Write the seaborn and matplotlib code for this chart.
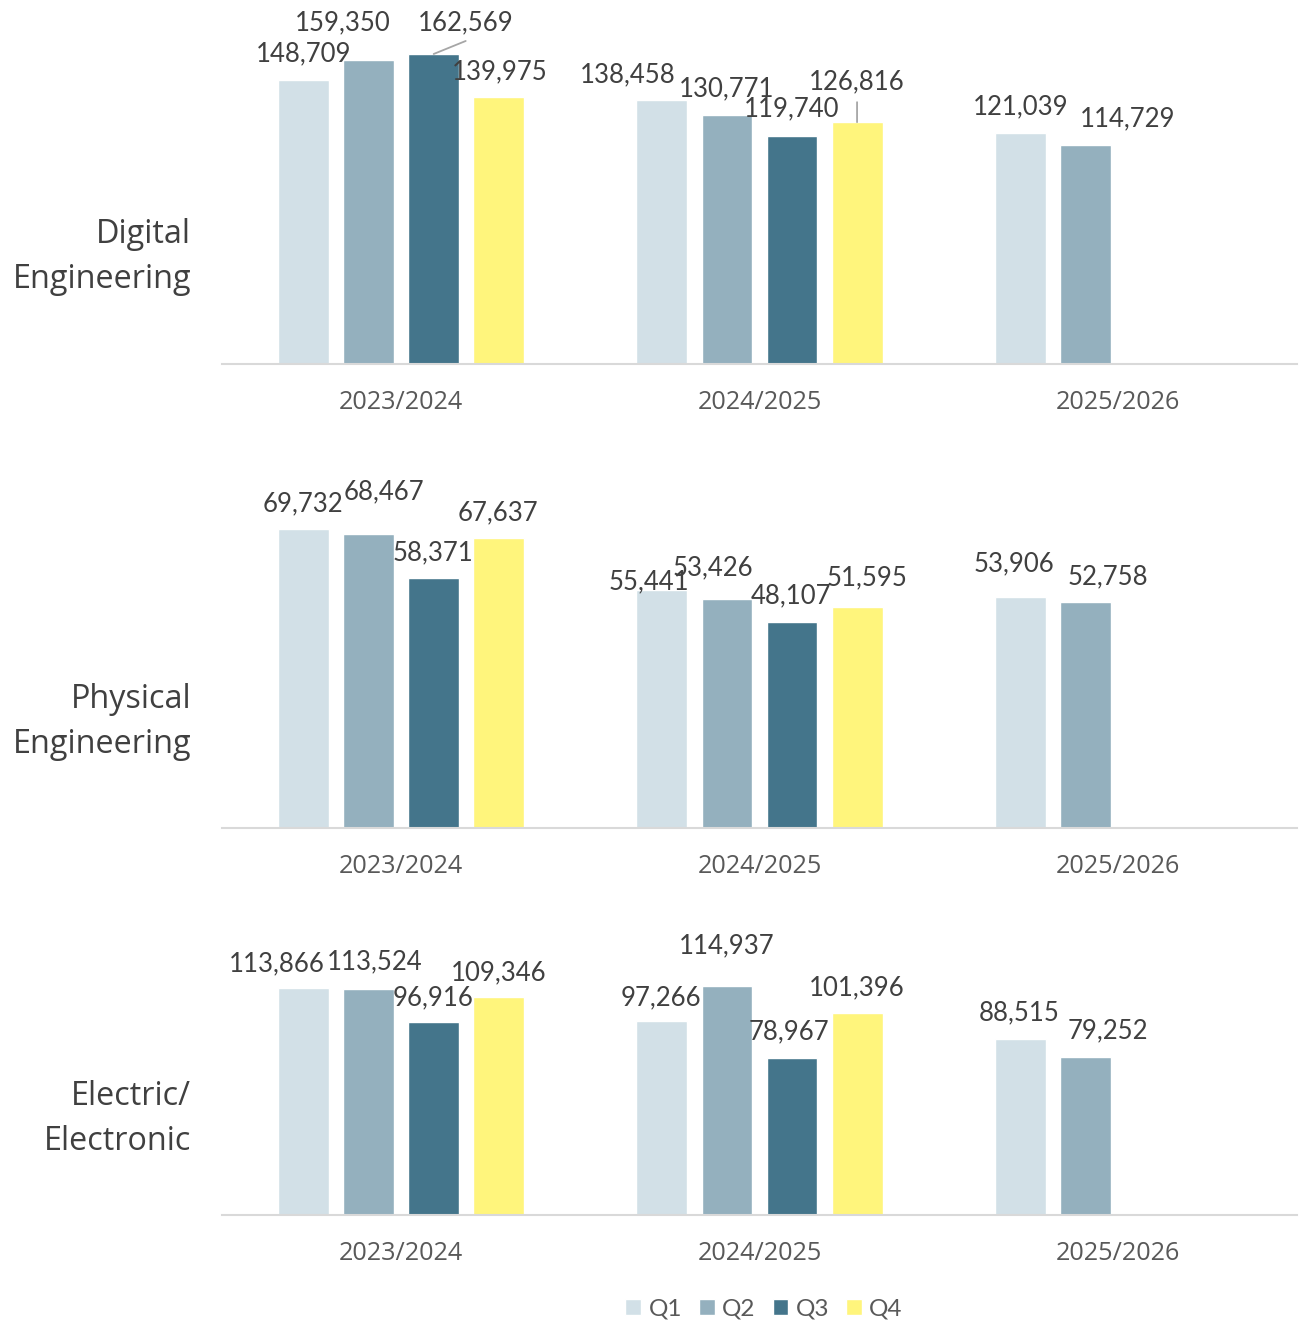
import matplotlib
matplotlib.use("Agg")
import matplotlib.pyplot as plt
import seaborn as sns
import pandas as pd
import numpy as np

# ---------------- data ----------------
years = ["2023/2024", "2024/2025", "2025/2026"]
quarters = ["Q1", "Q2", "Q3", "Q4"]
segments = ["Digital\nEngineering", "Physical\nEngineering", "Electric/\nElectronic"]

digital_q1 = [148709, 138458, 121039]
digital_q2 = [159350, 130771, 114729]
digital_q3 = [162569, 119740, None]
digital_q4 = [139975, 126816, None]

physical_q1 = [69732, 55441, 53906]
physical_q2 = [68467, 53426, 52758]
physical_q3 = [58371, 48107, None]
physical_q4 = [67637, 51595, None]

electric_q1 = [113866, 97266, 88515]
electric_q2 = [113524, 114937, 79252]
electric_q3 = [96916, 78967, None]
electric_q4 = [109346, 101396, None]

series = [
    [digital_q1, digital_q2, digital_q3, digital_q4],
    [physical_q1, physical_q2, physical_q3, physical_q4],
    [electric_q1, electric_q2, electric_q3, electric_q4],
]

colors = ["#D2E0E7", "#94B0BE", "#44758B", "#FFF57C"]

# ---------------- layout (pixels) ----------------
W, H = 1309, 1321
DPI = 100
PT = 72.0 / DPI
ax_left, ax_right = 222, 1297
panel_base = [364, 828, 1215]       # baseline y (px from top)
panel_scale = [1.907, 4.29, 1.99]   # px per 1000 units
panel_ymax = [190000, 80000, 140000]
row_label_y = [257, 722, 1119]

# label offsets (px) of text centre relative to bar top centre
label_off = [
    {(0, 0): (0, -28), (0, 1): (-26, -39), (0, 2): (32, -33), (0, 3): (1, -27),
     (1, 0): (-34, -27), (1, 1): (0, -28), (1, 2): (0, -29), (1, 3): (0, -42),
     (2, 0): (0, -28), (2, 1): (42, -28)},
    {(0, 0): (-1, -27), (0, 1): (15, -44), (0, 2): (-1, -27), (0, 3): (-1, -27),
     (1, 0): (-13, -10), (1, 1): (-14, -33), (1, 2): (-1, -28), (1, 3): (10, -31),
     (2, 0): (-6, -35), (2, 1): (23, -27)},
    {(0, 0): (-27, -26), (0, 1): (6, -29), (0, 2): (-1, -26), (0, 3): (0, -26),
     (1, 0): (-1, -25), (1, 1): (0, -42), (1, 2): (-3, -28), (1, 3): (0, -27),
     (2, 0): (-1, -28), (2, 1): (23, -28)},
]
# leader lines: (panel, year, quarter) -> end offset px
leaders = {(0, 0, 2): (32, -13), (0, 1, 3): (0, -20)}

val_font = "Lato"
txt_font = "Open Sans"
val_size = 18.5
val_color = "#404040"

sns.set_theme(style="white")
plt.rcParams["font.family"] = [txt_font, "DejaVu Sans"]

fig = plt.figure(figsize=(W / DPI, H / DPI), dpi=DPI)
handles = None

for p in range(3):
    base = panel_base[p]
    k = panel_scale[p]
    ymax = panel_ymax[p]
    h_px = ymax * k / 1000.0
    ax = fig.add_axes([ax_left / W, 1 - base / H, (ax_right - ax_left) / W, h_px / H])

    rows = []
    for qi, q in enumerate(quarters):
        for yi, y in enumerate(years):
            v = series[p][qi][yi]
            if v is not None:
                rows.append({"year": y, "quarter": q, "value": v})
    df = pd.DataFrame(rows)

    sns.barplot(data=df, x="year", y="value", hue="quarter", order=years,
                hue_order=quarters, palette=colors, width=0.726, gap=0.217,
                saturation=1, ax=ax, errorbar=None)

    ax.set_ylim(0, ymax)
    ax.set_xlim(-0.5, 2.5)
    ax.set_xlabel("")
    ax.set_ylabel("")
    ax.set_yticks([])
    for s in ["top", "right", "left"]:
        ax.spines[s].set_visible(False)
    ax.spines["bottom"].set_color("#D9D9D9")
    ax.spines["bottom"].set_linewidth(1.5)
    ax.tick_params(axis="x", length=0, pad=19, labelsize=18.2, labelcolor="#595959")
    for t in ax.get_xticklabels():
        t.set_fontfamily(txt_font)

    if handles is None:
        handles, labs = ax.get_legend_handles_labels()
    if ax.get_legend() is not None:
        ax.get_legend().remove()

    # data labels
    for qi, container in enumerate(ax.containers):
        for bar in container:
            v = bar.get_height()
            if v is None or np.isnan(v):
                continue
            xc = bar.get_x() + bar.get_width() / 2
            yi = int(round(xc))
            dx, dy = label_off[p].get((yi, qi), (0, -28))
            fs_px = val_size / PT
            ax.annotate(f"{int(round(v)):,}", xy=(xc, v),
                        xytext=(dx * PT, (-dy - 0.36 * fs_px) * PT),
                        textcoords="offset points", ha="center", va="baseline",
                        fontsize=val_size, color=val_color, family=val_font,
                        annotation_clip=False)
            if (p, yi, qi) in leaders:
                lx, ly = leaders[(p, yi, qi)]
                ax.annotate("", xy=(xc, v), xytext=(lx * PT, -ly * PT),
                            textcoords="offset points",
                            arrowprops=dict(arrowstyle="-", color="#A6A6A6", lw=1.3,
                                            shrinkA=0, shrinkB=0),
                            annotation_clip=False)

    fig.text(191 / W, 1 - row_label_y[p] / H, segments[p], ha="right", va="center",
             multialignment="right", fontsize=23.3, color="#404040",
             family=txt_font, linespacing=1.47)

leg = fig.legend(handles, quarters, loc="center", ncol=4,
                 bbox_to_anchor=(764 / W, 1 - 1309 / H), frameon=False,
                 handlelength=0.65, handleheight=0.65, handletextpad=0.3,
                 columnspacing=0.7, prop={"family": val_font, "size": 17.5})
for t in leg.get_texts():
    t.set_color("#595959")

fig.savefig("out.png", dpi=DPI)
